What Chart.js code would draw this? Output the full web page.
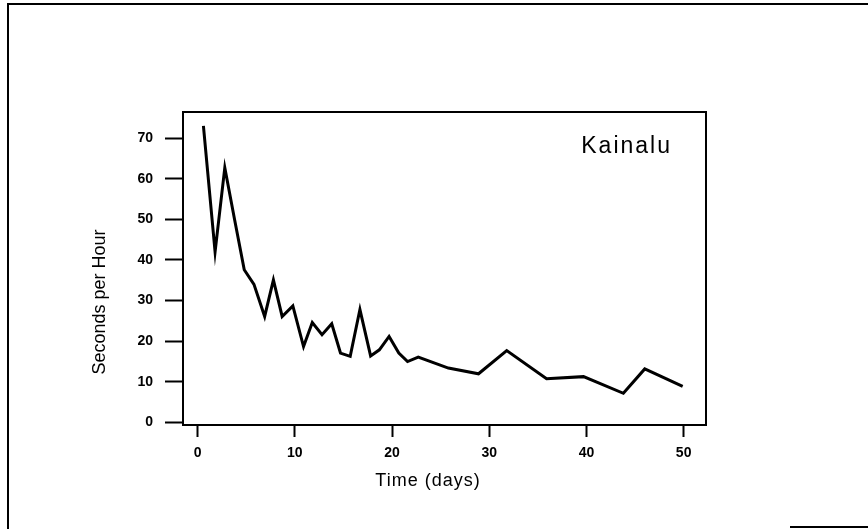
<!DOCTYPE html>
<html>
<head>
<meta charset="utf-8">
<script src="https://cdn.jsdelivr.net/npm/chart.js@4/dist/chart.umd.min.js"></script>
<style>
    html, body { margin: 0; padding: 0; background: #fff; }
    #wrap { position: relative; width: 868px; height: 529px; }
</style>
</head>
<body>
<div id="wrap"><canvas id="canvas" width="868" height="529"></canvas></div>
<script>
// dane (Kainalu)
const days = [0.6, 1.8, 2.8, 3.8, 4.8, 5.8, 6.9, 7.8, 8.7, 9.8, 10.9, 11.8, 12.8, 13.8, 14.7, 15.7,
    16.7, 17.8, 18.7, 19.7, 20.7, 21.6, 22.7, 25.8, 28.9, 31.8, 35.9, 39.7, 43.8, 46.0, 49.9];
const secondsPerHour = [73, 42, 62.7, 50, 37.6, 34, 26.1, 35.1, 26.1, 28.7, 18.7, 24.6, 21.6, 24.3, 17.1, 16.3,
    27.8, 16.4, 17.9, 21.2, 17.1, 15.0, 16.1, 13.4, 12.0, 17.7, 10.8, 11.3, 7.2, 13.2, 8.9];
const xTicks = [0, 10, 20, 30, 40, 50];
const yTicks = [0, 10, 20, 30, 40, 50, 60, 70];

const siteName = 'Kainalu';
const xTitle = 'Time (days)';
const yTitle = 'Seconds per Hour';

const points = days.map(function(d, i) {
    return { x: d, y: secondsPerHour[i] };
});

const font = 'Liberation Sans, Arial, sans-serif';

// ramka, napisy i obramowanie strony
const decorPlugin = {
    id: 'decor',
    afterDraw(chart) {
        let ctx = chart.ctx;
        let a = chart.chartArea;
        ctx.save();
        ctx.strokeStyle = '#000';
        ctx.lineWidth = 2;
        ctx.strokeRect(a.left, a.top, a.right - a.left, a.bottom - a.top);

        // obramowanie calej strony
        ctx.beginPath();
        ctx.moveTo(8, 529);
        ctx.lineTo(8, 4);
        ctx.lineTo(868, 4);
        ctx.moveTo(790, 527);
        ctx.lineTo(868, 527);
        ctx.stroke();

        ctx.fillStyle = '#000';
        ctx.font = '23px ' + font;
        ctx.letterSpacing = '2px';
        ctx.textAlign = 'right';
        ctx.textBaseline = 'middle';
        ctx.fillText(siteName, 672, 147);

        ctx.font = '18px ' + font;
        ctx.letterSpacing = '1px';
        ctx.textAlign = 'center';
        ctx.fillText(xTitle, 428, 481);

        ctx.letterSpacing = '0px';
        ctx.translate(100, 302);
        ctx.rotate(-Math.PI / 2);
        ctx.fillText(yTitle, 0, 0);
        ctx.restore();
    }
};

let ctx = document.getElementById('canvas').getContext('2d');
let chart = new Chart(ctx, {
    type: 'line',
    data: {
        datasets: [{
            label: siteName,
            data: points,
            borderColor: '#000',
            borderWidth: 3,
            pointRadius: 0,
            tension: 0,
            fill: false
        }]
    },
    options: {
        responsive: false,
        animation: false,
        layout: { padding: { left: 0, right: 162, top: 112, bottom: 0 } },
        plugins: {
            legend: { display: false },
            tooltip: { enabled: false }
        },
        scales: {
            x: {
                type: 'linear',
                min: -1.5,
                max: 52.3,
                afterBuildTicks: function(scale) {
                    scale.ticks = xTicks.map(function(v) { return { value: v }; });
                },
                afterFit: function(scale) { scale.height = 104; },
                border: { display: false },
                grid: {
                    drawOnChartArea: false,
                    drawTicks: true,
                    tickLength: 12,
                    tickWidth: 2,
                    tickColor: '#000'
                },
                ticks: {
                    color: '#000',
                    padding: 8,
                    maxRotation: 0,
                    font: { family: font, size: 14, weight: 'bold' }
                }
            },
            y: {
                type: 'linear',
                min: -0.6,
                max: 76.4,
                afterBuildTicks: function(scale) {
                    scale.ticks = yTicks.map(function(v) { return { value: v }; });
                },
                afterFit: function(scale) { scale.width = 183; },
                border: { display: false },
                grid: {
                    drawOnChartArea: false,
                    drawTicks: true,
                    tickLength: 18,
                    tickWidth: 2,
                    tickColor: '#000'
                },
                ticks: {
                    color: '#000',
                    padding: 12,
                    font: { family: font, size: 14, weight: 'bold' }
                }
            }
        }
    },
    plugins: [decorPlugin]
});
</script>
</body>
</html>
